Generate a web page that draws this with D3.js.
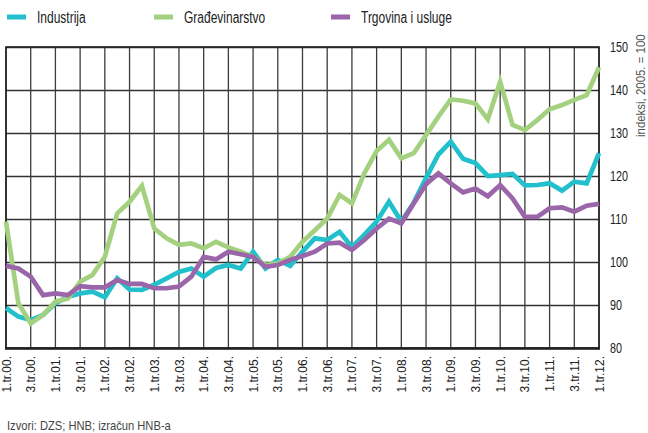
<!DOCTYPE html>
<html>
<head>
<meta charset="utf-8">
<script src="https://cdn.jsdelivr.net/npm/d3@7"></script>
<style>
  body { margin: 0; background: #fff; }
  svg text { font-family: "Liberation Sans", Arial, sans-serif; }
</style>
</head>
<body>
<svg id="chart" width="648" height="433"></svg>
<script>
// quarters 1.tr.00 .. 1.tr.12
let quarters = d3.range(49);
let quarterLabels = ["1.tr.00.", "3.tr.00.", "1.tr.01.", "3.tr.01.", "1.tr.02.", "3.tr.02.", "1.tr.03.", "3.tr.03.",
  "1.tr.04.", "3.tr.04.", "1.tr.05.", "3.tr.05.", "1.tr.06.", "3.tr.06.", "1.tr.07.", "3.tr.07.",
  "1.tr.08.", "3.tr.08.", "1.tr.09.", "3.tr.09.", "1.tr.10.", "3.tr.10.", "1.tr.11.", "3.tr.11.", "1.tr.12."];
let yTicks = [80, 90, 100, 110, 120, 130, 140, 150];

let industrija = [89.3, 87.3, 86.5, 87.7, 90.4, 91.9, 92.7, 93.1, 91.8, 96.2, 93.6, 93.5, 94.7, 96.2, 97.7, 98.5,
  96.6, 98.6, 99.3, 98.5, 102.4, 98.5, 100.5, 99.1, 102.4, 105.5, 105.1, 107, 103.5, 106.3, 109.4, 114,
  109.4, 113.8, 119.5, 125, 128, 124, 123, 120, 120.2, 120.5, 117.8, 117.9, 118.3, 116.6, 118.7, 118.3, 125.3];
let gradjevinarstvo = [109.4, 90.4, 85.7, 87.7, 90.8, 91.5, 95.4, 97, 101.2, 111.3, 114, 117.7, 107.8, 105.5, 104, 104.3,
  103.2, 104.7, 103.4, 102.4, 101.2, 99.3, 99.7, 101.2, 104.7, 107.4, 110.1, 115.6, 113.6, 120.6, 125.8, 128.4,
  124.1, 125.3, 129.5, 133.8, 137.8, 137.5, 136.9, 133.2, 141.9, 131.9, 130.7, 133, 135.5, 136.5, 137.7, 138.8, 145.3];
let trgovina = [99.1, 98.5, 96.6, 92.3, 92.7, 92.3, 94.4, 94.1, 94.1, 95.8, 94.9, 94.9, 93.9, 93.9, 94.3, 96.6,
  101.2, 100.6, 102.4, 101.8, 101.2, 98.9, 99.3, 100.5, 101.4, 102.4, 104.3, 104.5, 102.8, 105.1, 107.8, 110.1,
  109, 113.6, 118.1, 120.6, 118.3, 116.2, 117.1, 115.3, 117.9, 114.8, 110.5, 110.5, 112.5, 112.7, 111.7, 113.1, 113.5];

let seriesNames = ["Industrija", "Građevinarstvo", "Trgovina i usluge"];
let seriesColors = ["#22c0cc", "#a3d17f", "#9b65aa"];
let seriesValues = [industrija, gradjevinarstvo, trgovina];

let margin = { top: 47, right: 49, bottom: 85, left: 6 };
let width = 648, height = 433;

let svg = d3.select("#chart");

let x = d3.scaleLinear().domain([0, 48]).range([margin.left, width - margin.right]);
let y = d3.scaleLinear().domain([80, 150]).range([height - margin.bottom, margin.top]);

// the original uses a condensed face, so squeeze a normal one
function narrow(px, py, s, rot) {
    return "translate(" + px + "," + py + ")" + (rot ? " rotate(" + rot + ")" : "") + " scale(" + s + ",1)";
}

// grid
let grid = svg.append("g");
grid.selectAll("line.h")
    .data(yTicks)
    .enter().append("line")
    .attr("x1", x(0)).attr("x2", x(48))
    .attr("y1", d => Math.round(y(d)) + 0.5).attr("y2", d => Math.round(y(d)) + 0.5)
    .attr("stroke", "#333").attr("stroke-width", 1.3);
grid.selectAll("line.v")
    .data(quarterLabels)
    .enter().append("line")
    .attr("x1", (d, i) => x(i * 2)).attr("x2", (d, i) => x(i * 2))
    .attr("y1", y(150)).attr("y2", y(80))
    .attr("stroke", "#3c3c3c").attr("stroke-width", 1.3);

// frame
svg.append("rect")
    .attr("x", x(0)).attr("y", y(150))
    .attr("width", x(48) - x(0)).attr("height", y(80) - y(150))
    .attr("fill", "none").attr("stroke", "#222").attr("stroke-width", 1.6);
svg.append("line")
    .attr("x1", x(0) - 1).attr("x2", x(48) + 1)
    .attr("y1", y(80) + 0.5).attr("y2", y(80) + 0.5)
    .attr("stroke", "#222").attr("stroke-width", 2.5);

// lines
let line = d3.line()
    .x((d, i) => x(quarters[i]))
    .y(d => y(d));

svg.selectAll("path.series")
    .data(seriesValues)
    .enter().append("path")
    .attr("d", line)
    .attr("fill", "none")
    .attr("stroke", (d, i) => seriesColors[i])
    .attr("stroke-width", 4.7)
    .attr("stroke-linejoin", "miter");

// right axis labels
svg.selectAll("text.yt")
    .data(yTicks)
    .enter().append("text")
    .attr("transform", d => narrow(x(48) + 11, y(d), 0.72))
    .attr("dy", "0.35em")
    .attr("font-size", 15)
    .attr("fill", "#222")
    .text(d => d);

svg.append("text")
    .attr("transform", narrow(645, 137, 0.88, -90))
    .attr("font-size", 13)
    .attr("fill", "#555")
    .text("indeksi, 2005.  =  100");

// x labels
svg.selectAll("text.xl")
    .data(quarterLabels)
    .enter().append("text")
    .attr("transform", (d, i) => narrow(x(i * 2), y(80) + 8, 0.92, -90))
    .attr("text-anchor", "end")
    .attr("dy", "0.35em")
    .attr("font-size", 13)
    .attr("fill", "#222")
    .text(d => d);

// legend
let legendX = [7, 154, 331];
let legend = svg.selectAll("g.legend")
    .data(seriesNames)
    .enter().append("g")
    .attr("transform", (d, i) => "translate(" + legendX[i] + ",17)");
legend.append("rect")
    .attr("x", 0).attr("y", -2.5).attr("width", 19).attr("height", 5)
    .attr("fill", (d, i) => seriesColors[i]);
legend.append("text")
    .attr("transform", narrow(30, 0, 0.75))
    .attr("dy", "0.35em")
    .attr("font-size", 16)
    .attr("fill", "#222")
    .text(d => d);

// source
svg.append("text")
    .attr("transform", narrow(7, 430, 0.86))
    .attr("font-size", 13)
    .attr("fill", "#444")
    .text("Izvori: DZS; HNB; izračun HNB-a");
</script>
</body>
</html>
